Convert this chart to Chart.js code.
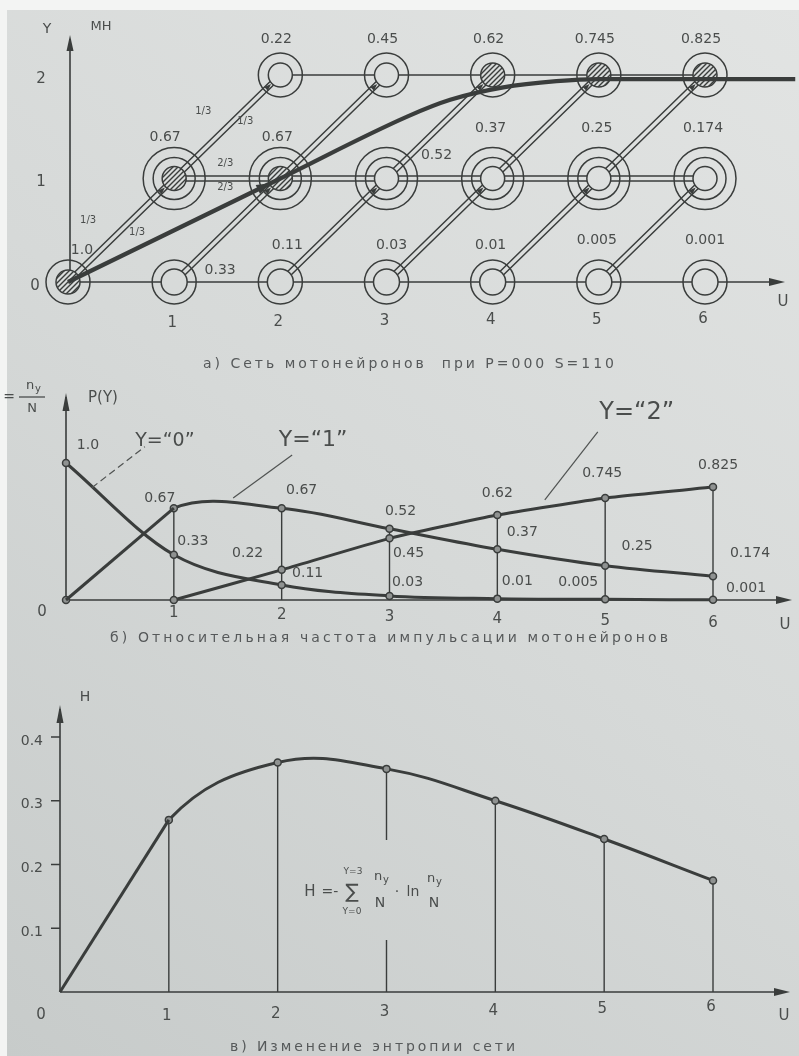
<!DOCTYPE html>
<html lang="ru">
<head>
<meta charset="utf-8">
<title>Сеть мотонейронов</title>
<script src="https://cdn.jsdelivr.net/npm/chart.js@4.4.1/dist/chart.umd.min.js"></script>
<style>
  html, body { margin: 0; padding: 0; background: #f3f4f3; }
  body { width: 799px; height: 1056px; position: relative; overflow: hidden; }
  canvas { position: absolute; left: 0; }
</style>
</head>
<body>
<canvas id="net" width="799" height="380" style="top:0"></canvas>
<canvas id="freq" width="799" height="290" style="top:380px"></canvas>
<canvas id="entropy" width="799" height="386" style="top:670px"></canvas>
<script>
// шаги U и относительные частоты n_y/N по уровням Y
const steps = [0, 1, 2, 3, 4, 5, 6];
const pY0 = [1.0, 0.33, 0.11, 0.03, 0.01, 0.005, 0.001];
const pY1 = [0, 0.67, 0.67, 0.52, 0.37, 0.25, 0.174];
const pY2 = [null, 0, 0.22, 0.45, 0.62, 0.745, 0.825];

// вероятности переходов на первых шагах
const transitions = ['1/3', '1/3', '1/3', '1/3', '2/3', '2/3'];

// средняя траектория по сети (жирная линия)
const pathU = [0, 2, 3.2, 3.6, 4.1, 4.6, 5.0, 6.85];
const pathY = [0, 1, 1.6, 1.76, 1.88, 1.94, 1.96, 1.96];

// энтропия сети H(U)
const entropyH = [0, 0.27, 0.36, 0.35, 0.30, 0.24, 0.175];

// подписи осей
const levelTicks = ['0', '1', '2'];
const stepTicks = ['0', '1', '2', '3', '4', '5', '6'];
const hTicks = [0.1, 0.2, 0.3, 0.4];

const INK = '#3a3d3c';
const TEXT = '#4a4d4c';
const FONT = '"DejaVu Sans", sans-serif';
const fmt = v => (v === 1 ? '1.0' : String(v));

// бумага: один градиент на всю страницу, каждый холст берёт свой кусок
function paperGradient(ctx, top) {
    const g = ctx.createLinearGradient(799, -top, 0, 1056 - top);
    g.addColorStop(0, '#e2e4e3');
    g.addColorStop(0.5, '#d6d9d8');
    g.addColorStop(1, '#c7cbca');
    return g;
}

function paperBg(top) {
    return {
        id: 'paperBg',
        beforeDraw(chart) {
            const ctx = chart.ctx;
            ctx.save();
            ctx.fillStyle = '#f3f4f3';
            ctx.fillRect(0, 0, chart.width, chart.height);
            ctx.fillStyle = paperGradient(ctx, top);
            ctx.fillRect(7, Math.max(0, 10 - top), chart.width, chart.height);
            ctx.restore();
        }
    };
}

function arrowHead(ctx, x, y, ang, len, half) {
    const c = Math.cos(ang), s = Math.sin(ang);
    ctx.beginPath();
    ctx.moveTo(x, y);
    ctx.lineTo(x - len * c + half * s, y - len * s - half * c);
    ctx.lineTo(x - len * c - half * s, y - len * s + half * c);
    ctx.closePath();
    ctx.fill();
}

function text(ctx, s, x, y, size, align) {
    ctx.font = size + 'px ' + FONT;
    ctx.textAlign = align || 'center';
    ctx.textBaseline = 'middle';
    ctx.fillText(s, x, y);
}

// подпись рисунка, растянутая по ширине как у плоттера
function caption(ctx, s, x1, x2, y) {
    ctx.font = '14px ' + FONT;
    ctx.letterSpacing = '0px';
    const w = ctx.measureText(s).width;
    ctx.letterSpacing = Math.max(0, (x2 - x1 - w) / (s.length - 1)) + 'px';
    ctx.textAlign = 'left';
    ctx.textBaseline = 'middle';
    ctx.fillStyle = '#56595a';
    ctx.fillText(s, x1, y);
    ctx.letterSpacing = '0px';
}

function axes(ctx, x0, y0, yTop, xEnd, headLen) {
    ctx.strokeStyle = INK;
    ctx.fillStyle = INK;
    ctx.lineWidth = 1.6;
    ctx.beginPath();
    ctx.moveTo(x0, y0); ctx.lineTo(x0, yTop + 4);
    ctx.moveTo(x0, y0); ctx.lineTo(xEnd - 4, y0);
    ctx.stroke();
    arrowHead(ctx, x0, yTop, -Math.PI / 2, headLen, 3.5);
    arrowHead(ctx, xEnd, y0, 0, 16, 4);
}

const baseOptions = (pad, xmax, ymax) => ({
    responsive: false,
    animation: false,
    events: [],
    layout: { padding: pad },
    scales: {
        x: { type: 'linear', min: 0, max: xmax, display: false },
        y: { type: 'linear', min: 0, max: ymax, display: false }
    },
    plugins: { legend: { display: false }, tooltip: { enabled: false } }
});

// первый отрезок кривой прячем: он рисуется отдельной прямой
const hideFirst = { borderColor: c => (c.p0DataIndex === 0 ? 'rgba(0,0,0,0)' : INK) };

// ---------- а) сеть мотонейронов ----------
const netCtx = document.getElementById('net').getContext('2d');
const netPaper = paperGradient(netCtx, 0);

function makeHatch(ctx) {
    const c = document.createElement('canvas');
    c.width = 5; c.height = 5;
    const g = c.getContext('2d');
    g.fillStyle = '#d9dcdb';
    g.fillRect(0, 0, 5, 5);
    g.strokeStyle = INK;
    g.lineWidth = 1.4;
    g.beginPath();
    g.moveTo(-1, 6); g.lineTo(6, -1);
    g.moveTo(-1, 1); g.lineTo(1, -1);
    g.moveTo(4, 6); g.lineTo(6, 4);
    g.stroke();
    return ctx.createPattern(c, 'repeat');
}
const hatch = makeHatch(netCtx);

const levels = [pY0, pY1, pY2];
const nodes = [];
levels.forEach((vals, r) => vals.forEach((v, u) => { if (v > 0) nodes.push({ u, r, v }); }));
const at = n => ({ x: n.u, y: n.r });
const innerR = n => (n.r === 0 && n.u > 0 ? 13 : 12);
const next = (n, dr) => nodes.find(m => m.u === n.u + 1 && m.r === n.r + dr);
const diagEdges = nodes.filter(n => next(n, 1)).map(n => [n, next(n, 1)]);
const row1Edges = nodes.filter(n => n.r === 1 && next(n, 0)).map(n => [n, next(n, 0)]);
const row2Edges = nodes.filter(n => n.r === 2 && next(n, 0)).map(n => [n, next(n, 0)]);
const segs = edges => edges.flatMap(([a, b]) => [at(a), at(b), { x: b.u, y: null }]);
const doubleSegs = segs(diagEdges.concat(row1Edges));
const row1 = nodes.filter(n => n.r === 1);

// смещения подписей значений у узлов
const nodeLabelShift = {
    '0:0': [14, -32], '0:1': [46, -12], '0:2': [7, -37], '0:3': [5, -37],
    '0:5': [-2, -42], '0:6': [0, -42],
    '1:1': [-9, -41], '1:2': [-3, -41], '1:3': [50, -23]
};
const rowLabelShift = [[-2, -37], [-2, -50], [-4, -36]];
const fracMarks = [[0.5, 0.5, -33, -10], [0.5, 0.5, 16, 2], [1.5, 1.5, -24, -15],
                   [1.5, 1.5, 18, -5], [1.5, 1, -2, -15], [1.5, 1, -2, 9]];

const netDecor = {
    id: 'netDecor',
    beforeDatasetsDraw(chart) {
        const ctx = chart.ctx, X = v => chart.scales.x.getPixelForValue(v), Y = v => chart.scales.y.getPixelForValue(v);
        ctx.save();
        axes(ctx, X(0) + 2, Y(0), 35, 785, 16);
        ctx.restore();
    },
    afterDatasetsDraw(chart) {
        const ctx = chart.ctx, X = v => chart.scales.x.getPixelForValue(v), Y = v => chart.scales.y.getPixelForValue(v);
        ctx.save();
        ctx.fillStyle = INK;
        // стрелки на переходах
        diagEdges.forEach(([a, b]) => {
            const ang = Math.atan2(Y(b.r) - Y(a.r), X(b.u) - X(a.u));
            arrowHead(ctx, X(b.u) - Math.cos(ang) * (innerR(b) + 1), Y(b.r) - Math.sin(ang) * (innerR(b) + 1), ang, 7, 2.6);
        });
        const hub = nodes.find(n => n.u === 2 && n.r === 1);
        const ang = Math.atan2(Y(1) - Y(0), X(2) - X(0));
        arrowHead(ctx, X(hub.u) - Math.cos(ang) * 11, Y(hub.r) - Math.sin(ang) * 11, ang, 14, 5);

        ctx.fillStyle = TEXT;
        nodes.forEach(n => {
            const d = nodeLabelShift[n.r + ':' + n.u] || rowLabelShift[n.r];
            text(ctx, fmt(n.v), X(n.u) + d[0], Y(n.r) + d[1], 14);
        });
        fracMarks.forEach((m, i) => {
            text(ctx, transitions[i], X(m[0]) + m[2], Y(m[1]) + m[3], 10);
        });
        levelTicks.forEach((t, r) => text(ctx, t, r === 0 ? 35 : 41, Y(r) + 4, 15));
        stepTicks.slice(1).forEach((t, i) => text(ctx, t, X(i + 1) - 2, 323 - i * 0.8, 15));
        text(ctx, 'U', 783, 302, 15);
        text(ctx, 'Y', 47, 29, 14);
        text(ctx, 'МН', 101, 27, 13);
        caption(ctx, 'а) Сеть мотонейронов  при P=000 S=110', 203, 614, 364);
        ctx.restore();
    }
};

const ring = (data, radius, fill, order) => ({
    data, showLine: false, clip: false, order,
    pointRadius: radius, pointHoverRadius: radius,
    pointBackgroundColor: fill, pointBorderColor: INK, pointBorderWidth: 1.5
});

new Chart(netCtx, {
    type: 'line',
    data: {
        datasets: [
            {
                data: pathU.map((u, i) => ({ x: u, y: pathY[i] })),
                borderColor: INK, borderWidth: 4.2, pointRadius: 0,
                cubicInterpolationMode: 'monotone', clip: false, order: -1
            },
            ring(nodes.map(at), nodes.map(innerR), nodes.map(n => (n.v > 0.6 ? hatch : netPaper)), 1),
            ring(row1.map(at), 21, 'rgba(0,0,0,0)', 2),
            ring(nodes.map(at), nodes.map(n => (n.r === 1 ? 31 : 22)), 'rgba(0,0,0,0)', 3),
            { data: doubleSegs, borderColor: netPaper, borderWidth: 3.4, pointRadius: 0, clip: false, order: 5 },
            { data: doubleSegs, borderColor: INK, borderWidth: 6.4, pointRadius: 0, clip: false, order: 6 },
            { data: segs(row2Edges), borderColor: INK, borderWidth: 1.5, pointRadius: 0, clip: false, order: 6 }
        ]
    },
    options: baseOptions({ left: 68, right: 94, top: 75, bottom: 98 }, 6, 2),
    plugins: [paperBg(0), netDecor]
});

// ---------- б) относительная частота ----------
const freqCtx = document.getElementById('freq').getContext('2d');
const series = vals => steps.map((u, i) => ({ x: u, y: vals[i] })).filter(p => p.y !== null);
const peak = steps.map((u, i) => Math.max(pY0[i], pY1[i], pY2[i] || 0));
const stems = vals => steps.slice(1).flatMap(u => [{ x: u, y: 0 }, { x: u, y: vals[u] }, { x: u, y: null }]);

const freqLabels = [
    [pY0, 0, 22, -18], [pY1, 1, -14, -10], [pY0, 1, 19, -13], [pY1, 2, 20, -18],
    [pY2, 2, -34, -17], [pY0, 2, 26, -12], [pY1, 3, 11, -17], [pY2, 3, 19, 15],
    [pY0, 3, 18, -14], [pY2, 4, 0, -22], [pY1, 4, 25, -17], [pY0, 4, 20, -17],
    [pY2, 5, -3, -25], [pY1, 5, 32, -19], [pY0, 5, -27, -17], [pY2, 6, 5, -22],
    [pY1, 6, 37, -23], [pY0, 6, 33, -12]
];
// имена кривых: начало выноски на кривой, конец выноски, центр надписи
const curveNames = [
    ['Y=\u201C0\u201D', 0.24, 0.82, [53, -41], [73, -47], 19, true],
    ['Y=\u201C1\u201D', 1.55, 0.745, [59, -43], [80, -58], 22, false],
    ['Y=\u201C2\u201D', 4.44, 0.73, [53, -68], [92, -87], 24, false]
];

const freqDecor = {
    id: 'freqDecor',
    beforeDatasetsDraw(chart) {
        const ctx = chart.ctx, X = v => chart.scales.x.getPixelForValue(v), Y = v => chart.scales.y.getPixelForValue(v);
        ctx.save();
        axes(ctx, X(0), Y(0), 13, 792, 18);
        ctx.restore();
    },
    afterDatasetsDraw(chart) {
        const ctx = chart.ctx, X = v => chart.scales.x.getPixelForValue(v), Y = v => chart.scales.y.getPixelForValue(v);
        ctx.save();
        ctx.fillStyle = TEXT;
        freqLabels.forEach(([vals, u, dx, dy]) => text(ctx, fmt(vals[u]), X(u) + dx, Y(vals[u]) + dy, 14));
        curveNames.forEach(([s, u, v, end, pos, size, dashed]) => {
            const x0 = X(u), y0 = Y(v);
            ctx.strokeStyle = '#505352';
            ctx.lineWidth = 1.2;
            ctx.setLineDash(dashed ? [7, 4] : []);
            ctx.beginPath();
            ctx.moveTo(x0, y0);
            ctx.lineTo(x0 + end[0], y0 + end[1]);
            ctx.stroke();
            ctx.setLineDash([]);
            text(ctx, s, x0 + pos[0], y0 + pos[1], size);
        });
        text(ctx, stepTicks[0], X(0) - 24, Y(0) + 12, 15);
        stepTicks.slice(1).forEach((t, i) => text(ctx, t, X(i + 1), Y(0) + 13 + i * 2, 15));
        text(ctx, 'U', 785, Y(0) + 25, 15);
        text(ctx, 'P(Y)', 88, 18, 15, 'left');
        // P = n_y / N у края листа
        text(ctx, '=', 9, 17, 14);
        ctx.strokeStyle = TEXT;
        ctx.lineWidth = 1.3;
        ctx.beginPath(); ctx.moveTo(19, 17); ctx.lineTo(45, 17); ctx.stroke();
        text(ctx, 'n', 30, 6, 13);
        text(ctx, 'y', 38, 9, 10);
        text(ctx, 'N', 32, 29, 13);
        caption(ctx, 'б) Относительная частота импульсации мотонейронов', 110, 668, 258);
        ctx.restore();
    }
};

const curve = (data, extra) => Object.assign({
    data, borderColor: INK, borderWidth: 3, clip: false, order: 1,
    pointRadius: 3.5, pointHoverRadius: 3.5, pointBackgroundColor: '#8f9291',
    pointBorderColor: INK, pointBorderWidth: 1.5
}, extra);

// уровень Y=1 растёт прямо до U=1, дальше идёт плавной дугой
const y1 = series(pY1);

new Chart(freqCtx, {
    type: 'line',
    data: {
        datasets: [
            curve(series(pY0), { cubicInterpolationMode: 'monotone' }),
            curve(y1.slice(0, 2), { tension: 0, pointRadius: 0 }),
            curve(y1, { tension: 0.35, segment: hideFirst }),
            curve(series(pY2), { tension: 0.15 }),
            { data: stems(peak), borderColor: INK, borderWidth: 1.4, pointRadius: 0, clip: false, order: 3 }
        ]
    },
    options: baseOptions({ left: 66, right: 86, top: 83, bottom: 70 }, 6, 1),
    plugins: [paperBg(380), freqDecor]
});

// ---------- в) энтропия сети ----------
const entCtx = document.getElementById('entropy').getContext('2d');
const hPoints = steps.map((u, i) => ({ x: u, y: entropyH[i] }));

const entDecor = {
    id: 'entDecor',
    beforeDatasetsDraw(chart) {
        const ctx = chart.ctx, X = v => chart.scales.x.getPixelForValue(v), Y = v => chart.scales.y.getPixelForValue(v);
        ctx.save();
        axes(ctx, X(0), Y(0), 35, 790, 18);
        ctx.lineWidth = 1.4;
        ctx.beginPath();
        hTicks.forEach(t => { ctx.moveTo(X(0) - 9, Y(t)); ctx.lineTo(X(0), Y(t)); });
        ctx.stroke();
        ctx.restore();
    },
    afterDatasetsDraw(chart) {
        const ctx = chart.ctx, X = v => chart.scales.x.getPixelForValue(v), Y = v => chart.scales.y.getPixelForValue(v);
        ctx.save();
        // разрыв вертикали под формулой
        ctx.fillStyle = paperGradient(ctx, 670);
        ctx.fillRect(X(3) - 5, 170, 10, 100);

        ctx.fillStyle = TEXT;
        hTicks.forEach(t => text(ctx, String(t), 43, Y(t) + 4, 14, 'right'));
        text(ctx, 'H', 85, 27, 14);
        text(ctx, stepTicks[0], X(0) - 19, Y(0) + 23, 15);
        stepTicks.slice(1).forEach((t, i) => text(ctx, t, X(i + 1) - 2, Y(0) + 24 - i * 1.7, 15));
        text(ctx, 'U', 784, Y(0) + 24, 15);

        // H = -Σ n_y/N · ln n_y/N
        text(ctx, 'H', 310, 222, 15);
        text(ctx, '=-', 330, 222, 14);
        text(ctx, '\u2211', 352, 223, 20);
        text(ctx, 'Y=3', 353, 202, 9);
        text(ctx, 'Y=0', 352, 242, 9);
        text(ctx, 'n', 378, 207, 13);
        text(ctx, 'y', 386, 210, 10);
        text(ctx, 'N', 380, 233, 14);
        text(ctx, '·', 397, 222, 14);
        text(ctx, 'ln', 413, 222, 14);
        text(ctx, 'n', 431, 209, 13);
        text(ctx, 'y', 439, 212, 10);
        text(ctx, 'N', 434, 233, 14);

        caption(ctx, 'в) Изменение энтропии сети', 230, 515, 377);
        ctx.restore();
    }
};

new Chart(entCtx, {
    type: 'line',
    data: {
        datasets: [
            // от нуля до U=1 рост почти прямой
            { data: hPoints.slice(0, 2), borderColor: INK, borderWidth: 3, tension: 0, clip: false, order: 1, pointRadius: 0 },
            {
                data: hPoints, borderColor: INK, borderWidth: 3, tension: 0.4, clip: false, order: 1,
                segment: hideFirst,
                pointRadius: steps.map(u => (u === 0 ? 0 : 3.5)), pointHoverRadius: 3.5,
                pointBackgroundColor: '#8f9291', pointBorderColor: INK, pointBorderWidth: 1.5
            },
            { data: stems(entropyH), borderColor: INK, borderWidth: 1.4, pointRadius: 0, clip: false, order: 2 }
        ]
    },
    options: baseOptions({ left: 60, right: 86, top: 67, bottom: 64 }, 6, 0.4),
    plugins: [paperBg(670), entDecor]
});
</script>
</body>
</html>
